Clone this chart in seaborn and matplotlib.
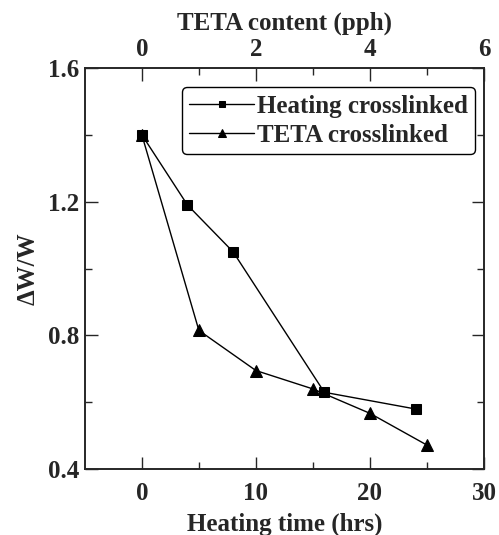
import matplotlib
matplotlib.use("Agg")
import matplotlib.pyplot as plt
import seaborn as sns
import pandas as pd

# Data
heat_time = [0, 4, 8, 16, 24]
heat_dw = [1.40, 1.19, 1.05, 0.63, 0.58]
teta_pph = [0, 1, 2, 3, 4, 5]
teta_dw = [1.40, 0.815, 0.695, 0.64, 0.567, 0.472]

sns.set_style("ticks")
plt.rcParams['font.family'] = ['Liberation Serif', 'DejaVu Serif']
plt.rcParams['font.weight'] = 'bold'
plt.rcParams['axes.labelweight'] = 'bold'

FS = 18

fig = plt.figure(figsize=(4.99, 5.35), dpi=100)
ax = fig.add_axes([0.170, 0.123, 0.800, 0.750])

df_h = pd.DataFrame({"t": heat_time, "dw": heat_dw})
df_t = pd.DataFrame({"p": teta_pph, "dw": teta_dw})

sns.lineplot(data=df_h, x="t", y="dw", ax=ax, color="black", lw=1.0,
             marker="s", markersize=7.5, markeredgecolor="black", label="Heating crosslinked", legend=False)

ax2 = ax.twiny()
sns.lineplot(data=df_t, x="p", y="dw", ax=ax2, color="black", lw=1.0,
             marker="^", markersize=9, markeredgecolor="black", label="TETA crosslinked", legend=False)

ax.set_xlim(-5, 30)
ax.set_ylim(0.4, 1.6)
ax2.set_xlim(-1, 6)

ax.set_xticks([0, 10, 20, 30])
ax.set_xticks([5, 15, 25], minor=True)
ax2.set_xticks([0, 2, 4, 6])
ax2.set_xticks([1, 3, 5], minor=True)
ax.set_yticks([0.4, 0.8, 1.2, 1.6])
ax.set_yticks([0.6, 1.0, 1.4], minor=True)
ax.set_yticklabels(["0.4", "0.8", "1.2", "1.6"])

for a in (ax, ax2):
    a.tick_params(which="major", direction="in", length=9, width=1, labelsize=FS)
    a.tick_params(which="minor", direction="in", length=5, width=1)
    for s in a.spines.values():
        s.set_linewidth(1.2)
        s.set_visible(True)
ax.tick_params(which="both", right=True, top=False)
ax.tick_params(axis="x", which="major", pad=9)
ax.tick_params(axis="y", which="major", pad=4)
ax2.tick_params(which="both", top=True, bottom=False)
ax2.tick_params(axis="x", which="major", pad=5)

for lab in ax.get_xticklabels() + ax.get_yticklabels() + ax2.get_xticklabels():
    lab.set_fontweight("bold")

ax.set_xlabel("Heating time (hrs)", fontsize=FS, fontweight="bold", labelpad=6)
ax.set_ylabel("ΔW/W", fontsize=FS, fontweight="bold", labelpad=6)
ax2.set_xlabel("TETA content (pph)", fontsize=FS, fontweight="bold", labelpad=6)

h1, l1 = ax.get_legend_handles_labels()
h2, l2 = ax2.get_legend_handles_labels()
leg = ax2.legend(h1 + h2, l1 + l2, loc="upper right", bbox_to_anchor=(0.978, 0.952),
                 fancybox=True, framealpha=1, edgecolor="black",
                 prop={"weight": "bold", "size": FS}, handlelength=2.6, markerscale=0.65,
                 borderpad=0.3, labelspacing=0.25, handletextpad=0.1, borderaxespad=0)
leg.get_frame().set_linewidth(1.0)

fig.savefig("out.png", dpi=100)
